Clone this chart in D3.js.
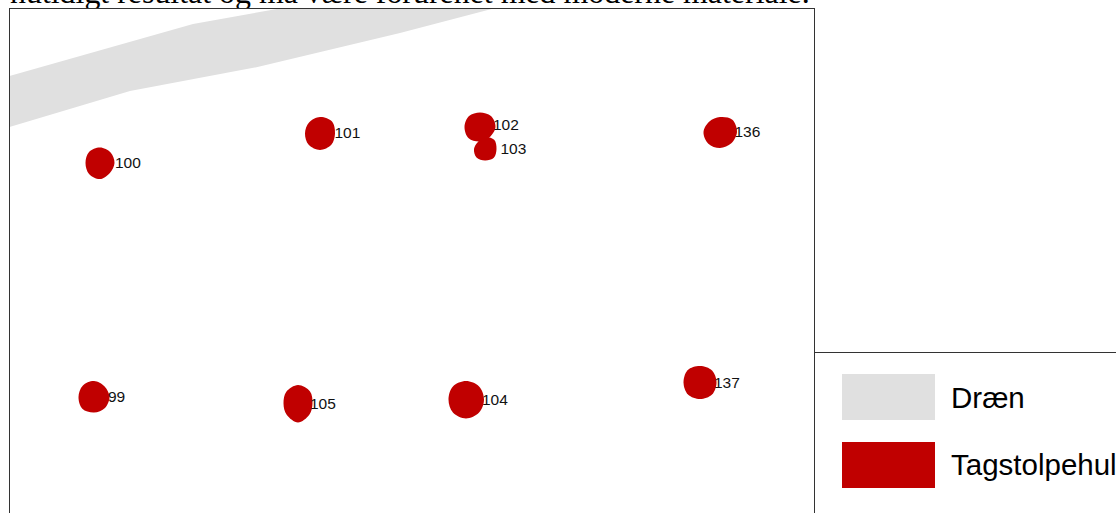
<!DOCTYPE html>
<html>
<head>
<meta charset="utf-8">
<style>
html, body { margin: 0; padding: 0; background: #fff; overflow: hidden; }
svg { display: block; }
</style>
<script src="https://cdn.jsdelivr.net/npm/d3@7"></script>
</head>
<body>
<div id="map"></div>
<script>
( function () {
	'use strict';

	// Map coordinates: metres from the left / top of the excavation plan.
	var drainX = [ 0, 18.35, 27, 48.4, 39.05, 24.8, 12.05, 0 ];
	var drainY = [ 6.75, 1.55, 0, 0, 2.45, 5.85, 8.25, 11.85 ];

	var holeIds = [ '100', '101', '102', '103', '136', '99', '105', '104', '137' ];
	var holeX   = [ 9.05, 31.05, 47.05, 47.55, 71.05, 8.45, 28.85, 45.65, 69.05 ];
	var holeY   = [ 15.45, 12.5, 11.85, 14.05, 12.35, 38.85, 39.5, 39.1, 37.4 ];

	// Outline radii, clockwise from north every 45 degrees.
	var holeRadii = [
		[ 1.55, 1.5, 1.45, 1.4, 1.6, 1.55, 1.45, 1.55 ],
		[ 1.65, 1.7, 1.5, 1.6, 1.65, 1.6, 1.5, 1.55 ],
		[ 1.45, 1.55, 1.55, 1.4, 1.45, 1.6, 1.55, 1.55 ],
		[ 1.2, 1.3, 1.15, 1.25, 1.15, 1.2, 1.1, 1.0 ],
		[ 1.5, 1.75, 1.7, 1.6, 1.6, 1.65, 1.65, 1.5 ],
		[ 1.6, 1.5, 1.55, 1.55, 1.55, 1.65, 1.55, 1.6 ],
		[ 1.85, 1.7, 1.45, 1.6, 1.9, 1.6, 1.45, 1.65 ],
		[ 1.85, 1.85, 1.8, 1.85, 1.9, 1.85, 1.75, 1.85 ],
		[ 1.65, 1.7, 1.65, 1.7, 1.65, 1.7, 1.65, 1.75 ]
	];

	// Label anchors, in the same map coordinates.
	var labelX = [ 10.55, 32.5, 48.35, 49.1, 72.5, 9.85, 30.05, 47.25, 70.45 ];
	var labelY = [ 15.95, 12.95, 12.1, 14.5, 12.8, 39.35, 40.0, 39.6, 37.9 ];

	var legendLabels = [ 'Dræn', 'Tagstolpehul' ];
	var legendColors = [ '#e0e0e0', '#c00000' ];

	var COLORS = { frame: '#333333', text: '#111111', title: '#000000' };

	var width = 1116, height = 513;

	var svg = d3.select( '#map' ).append( 'svg' )
		.attr( 'width', width )
		.attr( 'height', height );

	// Page text that runs behind the map frame.
	svg.append( 'text' )
		.attr( 'x', 10 )
		.attr( 'y', 3 )
		.attr( 'fill', COLORS.title )
		.style( 'font-family', '"Liberation Serif", serif' )
		.style( 'font-size', '31.9px' )
		.text( 'nutidigt resultat og må være forurenet med moderne materiale.' );

	var x = d3.scaleLinear().domain( [ 0, 80.5 ] ).range( [ 9.5, 814.5 ] );
	var y = d3.scaleLinear().domain( [ 0, 50.4 ] ).range( [ 8.5, 512.5 ] );
	var r = d3.scaleLinear().domain( [ 0, 1 ] ).range( [ 0, 10 ] );

	// Map frame.
	svg.append( 'rect' )
		.attr( 'x', x( 0 ) )
		.attr( 'y', y( 0 ) )
		.attr( 'width', x( 80.5 ) - x( 0 ) )
		.attr( 'height', height )
		.attr( 'fill', '#fff' );

	// Drain.
	var drainLine = d3.line()
		.x( function ( d ) { return x( drainX[ d ] ); } )
		.y( function ( d ) { return y( drainY[ d ] ); } );

	svg.append( 'path' )
		.attr( 'd', drainLine( d3.range( drainX.length ) ) + 'Z' )
		.attr( 'fill', legendColors[ 0 ] );

	// Post holes.
	var outline = d3.lineRadial()
		.angle( function ( d, i ) { return i * Math.PI / 4; } )
		.radius( function ( d ) { return r( d ); } )
		.curve( d3.curveCatmullRomClosed );

	svg.selectAll( 'path.hole' )
		.data( holeIds )
		.join( 'path' )
		.attr( 'class', 'hole' )
		.attr( 'transform', function ( d, i ) { return 'translate(' + x( holeX[ i ] ) + ',' + y( holeY[ i ] ) + ')'; } )
		.attr( 'd', function ( d, i ) { return outline( holeRadii[ i ] ); } )
		.attr( 'fill', legendColors[ 1 ] );

	// Hole labels.
	svg.selectAll( 'text.label' )
		.data( holeIds )
		.join( 'text' )
		.attr( 'class', 'label' )
		.attr( 'x', function ( d, i ) { return x( labelX[ i ] ); } )
		.attr( 'y', function ( d, i ) { return y( labelY[ i ] ); } )
		.attr( 'fill', COLORS.text )
		.style( 'font-family', '"Liberation Sans", Arial, sans-serif' )
		.style( 'font-size', '15.5px' )
		.text( function ( d ) { return d; } );

	svg.append( 'rect' )
		.attr( 'x', x( 0 ) )
		.attr( 'y', y( 0 ) )
		.attr( 'width', x( 80.5 ) - x( 0 ) )
		.attr( 'height', height )
		.attr( 'fill', 'none' )
		.attr( 'stroke', COLORS.frame )
		.attr( 'stroke-width', 1 );

	// Legend.
	var legend = svg.append( 'g' ).attr( 'transform', 'translate(814.5,352.5)' );

	legend.append( 'path' )
		.attr( 'd', 'M0,161V0H302' )
		.attr( 'fill', 'none' )
		.attr( 'stroke', COLORS.frame );

	var rows = d3.scaleBand()
		.domain( legendLabels )
		.range( [ 21.5, 135.5 ] )
		.paddingInner( 0.3235 );

	legend.selectAll( 'rect' )
		.data( legendLabels )
		.join( 'rect' )
		.attr( 'x', 27.5 )
		.attr( 'y', function ( d ) { return rows( d ); } )
		.attr( 'width', 93 )
		.attr( 'height', rows.bandwidth() )
		.attr( 'fill', function ( d, i ) { return legendColors[ i ]; } );

	legend.selectAll( 'text' )
		.data( legendLabels )
		.join( 'text' )
		.attr( 'x', 136.5 )
		.attr( 'y', function ( d ) { return rows( d ) + rows.bandwidth() / 2 + 10.5; } )
		.attr( 'fill', '#000' )
		.style( 'font-family', '"Liberation Sans", Arial, sans-serif' )
		.style( 'font-size', '29.5px' )
		.text( function ( d ) { return d; } );
} )();
</script>
</body>
</html>
